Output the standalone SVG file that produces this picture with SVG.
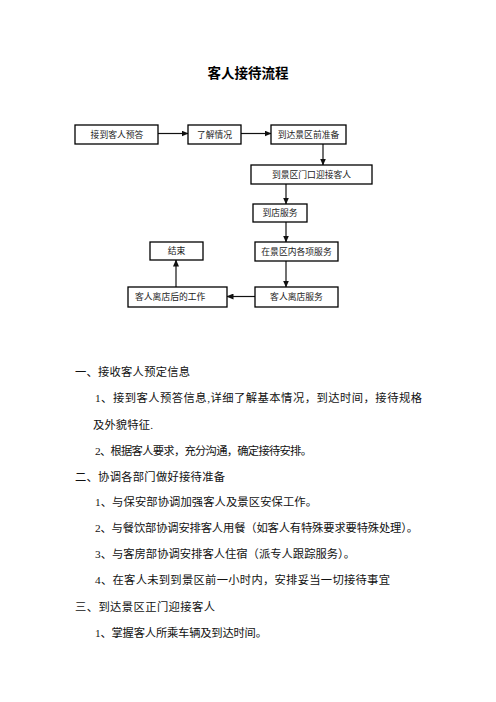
<svg xmlns="http://www.w3.org/2000/svg" width="496" height="702" viewBox="0 0 496 702">
<style>
.bx{fill:#fff;stroke:#000;stroke-width:1.3}
.bt{font-family:"Liberation Serif","Noto Sans CJK SC",serif;font-size:8.8px;fill:#222;text-anchor:middle}
.ln{fill:none;stroke:#111;stroke-width:1.2;marker-end:url(#ah)}
.tx{font-family:"Liberation Serif","Noto Sans CJK SC",serif;font-size:11.3px;fill:#111}
.ti{font-family:"Liberation Sans","Noto Sans CJK SC",sans-serif;font-size:13.5px;font-weight:bold;fill:#000;text-anchor:middle}
</style>
<defs>
<marker id="ah" markerWidth="7" markerHeight="6" refX="6.5" refY="3" orient="auto" markerUnits="userSpaceOnUse">
<path d="M0,0 L7,3 L0,6 z" fill="#111"/>
</marker>
</defs>
<rect width="496" height="702" fill="#fff"/>
<text class="ti" x="248" y="78">客人接待流程</text>

<g id="connectors">
<line class="ln" x1="158" y1="133.5" x2="188" y2="133.5"/>
<line class="ln" x1="241" y1="133.5" x2="271" y2="133.5"/>
<line class="ln" x1="323" y1="144" x2="323" y2="165"/>
<line class="ln" x1="286" y1="184" x2="286" y2="204"/>
<line class="ln" x1="286" y1="222" x2="286" y2="242"/>
<line class="ln" x1="286" y1="261" x2="286" y2="287"/>
<line class="ln" x1="255" y1="296.5" x2="227" y2="296.5"/>
<line class="ln" x1="176" y1="287" x2="176" y2="260"/>
</g>

<g id="n1"><rect class="bx" x="75" y="125" width="83" height="19"/><text class="bt" x="117" y="137.5">接到客人预答</text></g>
<g id="n2"><rect class="bx" x="188" y="125" width="53" height="19"/><text class="bt" x="214.5" y="137.5">了解情况</text></g>
<g id="n3"><rect class="bx" x="271" y="125" width="75" height="19"/><text class="bt" x="308.5" y="137.5">到达景区前准备</text></g>
<g id="n4"><rect class="bx" x="251" y="165" width="121" height="19"/><text class="bt" x="311.5" y="177.5">到景区门口迎接客人</text></g>
<g id="n5"><rect class="bx" x="253" y="204" width="54" height="18"/><text class="bt" x="280" y="216">到店服务</text></g>
<g id="n6"><rect class="bx" x="255" y="242" width="83" height="19"/><text class="bt" x="296.5" y="254.5">在景区内各项服务</text></g>
<g id="n7"><rect class="bx" x="255" y="287" width="83" height="20"/><text class="bt" x="296.5" y="300">客人离店服务</text></g>
<g id="n8"><rect class="bx" x="128" y="287" width="99" height="20"/><text class="bt" x="135" y="300" style="text-anchor:start">客人离店后的工作</text></g>
<g id="n9"><rect class="bx" x="150" y="242" width="53" height="18"/><text class="bt" x="176.5" y="254">结束</text></g>

<g id="body">
<text class="tx" x="75" y="376" textLength="115" lengthAdjust="spacing">一、接收客人预定信息</text>
<text class="tx" x="95" y="402" textLength="327" lengthAdjust="spacing">1、接到客人预答信息,详细了解基本情况，到达时间，接待规格</text>
<text class="tx" x="93" y="429" textLength="60" lengthAdjust="spacing">及外貌特征.</text>
<text class="tx" x="95" y="455" textLength="217" lengthAdjust="spacing">2、根据客人要求，充分沟通，确定接待安排。</text>
<text class="tx" x="75" y="481" textLength="150" lengthAdjust="spacing">二、协调各部门做好接待准备</text>
<text class="tx" x="95" y="506" textLength="222" lengthAdjust="spacing">1、与保安部协调加强客人及景区安保工作。</text>
<text class="tx" x="95" y="532" textLength="323" lengthAdjust="spacing">2、与餐饮部协调安排客人用餐（如客人有特殊要求要特殊处理）。</text>
<text class="tx" x="95" y="558" textLength="260" lengthAdjust="spacing">3、与客房部协调安排客人住宿（派专人跟踪服务）。</text>
<text class="tx" x="95" y="584" textLength="295" lengthAdjust="spacing">4、在客人未到到景区前一小时内，安排妥当一切接待事宜</text>
<text class="tx" x="75" y="611" textLength="140" lengthAdjust="spacing">三、到达景区正门迎接客人</text>
<text class="tx" x="95" y="637" textLength="172" lengthAdjust="spacing">1、掌握客人所乘车辆及到达时间。</text>
</g>
</svg>
